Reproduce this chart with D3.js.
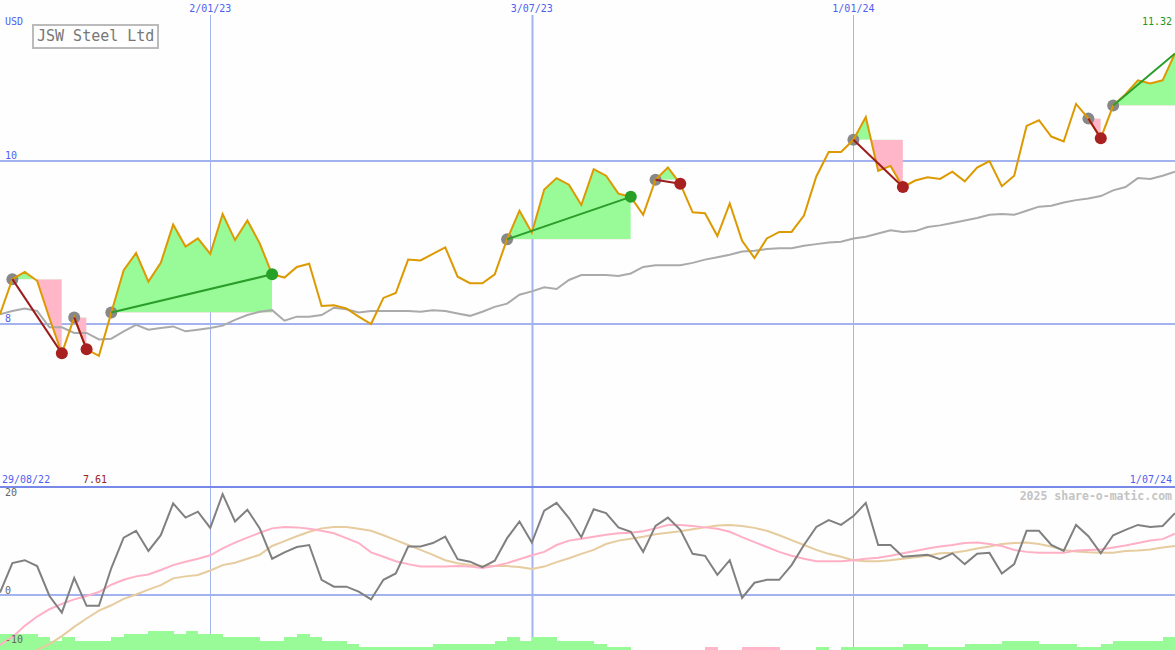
<!DOCTYPE html>
<html><head><meta charset="utf-8">
<script src="https://cdn.jsdelivr.net/npm/d3@7"></script>
<style>body{margin:0;background:#fdfefd;} svg{display:block;}</style>
</head><body><svg id="c" width="1175" height="650"></svg>
<script>
// ---- data (weekly points, index 0..95) ----
const price = [8.12,8.55,8.64,8.53,8.07,7.64,8.08,7.69,7.61,8.14,
  8.66,8.87,8.52,8.75,9.22,8.95,9.05,8.86,9.35,9.03,
  9.27,8.99,8.61,8.57,8.70,8.74,8.22,8.23,8.19,8.09,
  8.00,8.32,8.38,8.79,8.78,8.86,8.94,8.58,8.50,8.50,
  8.61,9.04,9.39,9.12,9.65,9.79,9.71,9.46,9.90,9.82,
  9.60,9.56,9.34,9.77,9.92,9.72,9.37,9.36,9.08,9.48,
  9.02,8.81,9.05,9.13,9.13,9.33,9.81,10.11,10.11,10.26,
  10.54,9.88,9.94,9.68,9.76,9.80,9.78,9.87,9.75,9.92,
  10.00,9.69,9.82,10.43,10.50,10.30,10.24,10.70,10.52,10.28,
  10.68,10.82,10.99,10.95,10.99,11.32];
const movingAvg = [8.12,8.16,8.19,8.16,7.96,7.96,7.89,7.89,7.81,7.82,
  7.91,7.99,7.93,7.95,7.97,7.91,7.93,7.95,7.98,8.05,
  8.11,8.15,8.17,8.04,8.09,8.09,8.11,8.20,8.18,8.14,
  8.16,8.16,8.16,8.16,8.15,8.17,8.16,8.13,8.10,8.15,
  8.21,8.25,8.36,8.40,8.45,8.43,8.54,8.60,8.60,8.60,
  8.59,8.62,8.70,8.72,8.72,8.72,8.75,8.79,8.82,8.85,
  8.89,8.90,8.92,8.93,8.93,8.96,8.98,9.00,9.01,9.05,
  9.07,9.11,9.15,9.13,9.14,9.19,9.21,9.24,9.27,9.30,
  9.34,9.35,9.34,9.39,9.44,9.45,9.49,9.52,9.54,9.57,
  9.64,9.68,9.79,9.78,9.82,9.87];
const oscGray = [0.5,6.5,7.1,5.9,-0.2,-3.6,3.5,-2.2,-2.2,5.5,
  11.7,13.1,9.0,12.2,18.7,15.8,17.0,13.7,20.6,15.0,
  17.4,13.6,7.4,8.7,9.8,10.2,3.1,1.7,1.7,0.7,
  -0.9,3.1,4.4,9.9,9.9,10.6,11.9,7.3,6.8,5.7,
  7.0,11.6,15.0,10.7,17.2,18.8,15.7,11.8,17.5,16.7,
  13.8,12.9,8.8,14.1,15.8,13.3,8.4,8.0,4.1,7.1,
  -0.6,2.5,3.1,3.1,6.1,10.2,13.9,15.3,14.3,16.1,
  18.8,10.2,10.2,7.8,8.0,8.2,7.3,8.5,6.3,8.4,
  8.6,4.4,6.3,13.1,13.1,10.2,9.0,14.3,12.0,8.5,
  12.2,13.3,14.3,13.9,14.1,16.7];
const oscPink = [-10.2,-8.6,-6.3,-4.4,-2.9,-1.8,-0.9,-0.2,0.6,2.1,
  3.1,3.8,4.2,5.1,6.1,6.8,7.4,8.1,9.5,10.7,
  11.7,12.7,13.6,13.9,13.8,13.5,13.1,12.6,11.6,10.6,
  8.7,7.8,6.9,6.3,5.8,5.8,5.8,5.9,5.8,5.5,
  5.9,6.5,7.3,8.1,8.8,10.2,11.1,11.5,11.9,12.3,
  12.6,12.7,13.0,13.6,14.3,14.3,14.1,13.8,13.5,12.9,
  11.8,10.8,9.8,8.8,8.0,7.4,6.9,6.9,6.9,7.1,
  7.4,7.6,8.0,8.5,9.0,9.5,9.9,10.2,10.6,10.7,
  10.4,10.0,9.2,8.8,8.6,8.6,8.6,9.1,9.2,9.3,
  9.7,10.1,10.6,11.1,11.4,12.5];
const oscTan = [-17.3,-15.3,-13.3,-11.2,-10.0,-8.4,-6.5,-4.8,-3.2,-2.1,
  -0.8,0.1,1.1,2.0,3.4,3.8,4.1,5.0,6.1,6.6,
  7.4,8.2,10.0,11.0,12.0,12.9,13.6,13.9,13.9,13.5,
  13.1,12.2,11.2,10.2,9.2,8.2,7.1,6.5,6.1,5.9,
  5.9,5.9,5.7,5.3,5.8,6.7,7.5,8.4,9.2,10.4,
  11.1,11.5,11.9,12.4,12.7,13.0,13.4,13.8,14.2,14.3,
  14.1,13.7,13.1,12.2,11.2,10.2,9.2,8.4,7.8,7.1,
  6.9,6.9,7.1,7.4,7.7,8.0,8.5,8.6,9.0,9.5,
  9.9,10.4,10.6,10.7,10.4,9.9,9.2,8.9,8.7,8.6,
  8.6,9.0,9.1,9.3,9.7,10.0];
const histo = [5,5,5,4,3,4,3,3,3,4,
  5,5,6,6,5,6,5,5,4,4,
  4,3,3,4,5,4,3,3,2,1,
  1,1,1,1,1,2,2,2,2,2,
  3,4,3,4,4,3,3,3,2,1,
  1,0,0,0,0,0,0,-1,0,0,
  -1,-1,-1,0,0,0,1,0,1,1,
  1,1,1,2,2,1,1,1,2,2,
  2,3,3,3,2,2,2,1,1,2,
  3,3,3,3,4];
const tradeEntry = [1,6,9,41,53,69,88,90];
const tradeExit  = [5,7,22,51,55,73,89,95];
const tradeOpen  = [false,false,false,false,false,false,false,true];
const dateTickIdx = [17,43,69];
const dateTickLabels = ["2/01/23","3/07/23","1/01/24"];
const priceTicks = [10,8];
const oscTicks = [20,0,-10];
const startLabel = "29/08/22", endLabel = "1/07/24";
const lowLabel = "7.61", lastLabel = "11.32";
const title = "JSW Steel Ltd", currency = "USD", credit = "2025 share-o-matic.com";

// ---- drawing ----
const W = 1175, H = 650, splitY = 487;
const svg = d3.select("#c");
const mono = "'DejaVu Sans Mono', monospace";
const blue = "#4f5ff0", grid = "#a3b3f0";
svg.append("rect").attr("width",W).attr("height",H).attr("fill","#fdfefd");

const x = d3.scaleLinear().domain([0, price.length-1]).range([0, W]);
const yP = d3.scaleLinear().domain([8,10]).range([324,161]);
const yO = d3.scaleLinear().domain([0,20]).range([595,497]);
const yH = d3.scaleLinear().domain([0,6]).range([650,631]);

// vertical date grid
dateTickIdx.forEach((d,k)=>{
  svg.append("line").attr("x1",Math.round(x(d))+0.5).attr("x2",Math.round(x(d))+0.5)
    .attr("y1",15).attr("y2",H).attr("stroke",grid).attr("stroke-width",k===1?2:1);
  svg.append("text").attr("x",x(d)).attr("y",12).attr("text-anchor","middle")
    .attr("font-family",mono).attr("font-size",10).attr("fill",blue).text(dateTickLabels[k]);
});
// price gridlines
priceTicks.forEach(v=>{
  svg.append("line").attr("x1",0).attr("x2",W).attr("y1",yP(v)).attr("y2",yP(v))
    .attr("stroke",grid).attr("stroke-width",2);
  svg.append("text").attr("x",5).attr("y",yP(v)-2).attr("font-family",mono).attr("font-size",10)
    .attr("fill",blue).text(v);
});
// oscillator zero line
svg.append("line").attr("x1",0).attr("x2",W).attr("y1",yO(0)).attr("y2",yO(0))
  .attr("stroke",grid).attr("stroke-width",2);
// separator
svg.append("line").attr("x1",0).attr("x2",W).attr("y1",splitY).attr("y2",splitY)
  .attr("stroke","#7888e8").attr("stroke-width",2);

// trade fills
const defs = svg.append("defs");
tradeEntry.forEach((e,t)=>{
  const ex = tradeExit[t];
  const idx = d3.range(e, ex+1);
  const lvl = yP(price[e]);
  const x0 = x(e), x1 = x(ex);
  defs.append("clipPath").attr("id","ca"+t).append("rect")
    .attr("x",x0).attr("y",0).attr("width",x1-x0).attr("height",lvl);
  defs.append("clipPath").attr("id","cb"+t).append("rect")
    .attr("x",x0).attr("y",lvl).attr("width",x1-x0).attr("height",splitY-lvl);
  const area = d3.area().x(i=>x(i)).y0(lvl).y1(i=>yP(price[i]));
  svg.append("path").attr("d",area(idx)).attr("fill","#98fb98").attr("clip-path","url(#ca"+t+")");
  svg.append("path").attr("d",area(idx)).attr("fill","#ffb6c8").attr("clip-path","url(#cb"+t+")");
});

// moving average
const idxAll = d3.range(price.length);
svg.append("path").attr("d", d3.line().x(i=>x(i)).y(i=>yP(movingAvg[i]))(idxAll))
  .attr("fill","none").attr("stroke","#aaaaaa").attr("stroke-width",2);

// entry dots (under line)
tradeEntry.forEach(e=>{
  svg.append("circle").attr("cx",x(e)).attr("cy",yP(price[e])).attr("r",6).attr("fill","#888888");
});

// price line
svg.append("path").attr("d", d3.line().x(i=>x(i)).y(i=>yP(price[i]))(idxAll))
  .attr("fill","none").attr("stroke","#dd9900").attr("stroke-width",2).attr("stroke-linejoin","miter");

// trade connectors & exit dots
tradeEntry.forEach((e,t)=>{
  const ex = tradeExit[t];
  const win = price[ex] > price[e];
  const col = win ? "#2a9d2a" : "#9b1c1c";
  svg.append("line").attr("x1",x(e)).attr("y1",yP(price[e])).attr("x2",x(ex)).attr("y2",yP(price[ex]))
    .attr("stroke",col).attr("stroke-width",2);
  if(!tradeOpen[t]){
    svg.append("circle").attr("cx",x(ex)).attr("cy",yP(price[ex])).attr("r",6)
      .attr("fill", win ? "#27a027" : "#a82020");
  }
});

// histogram
const bw = x(1)-x(0);
histo.forEach((v,k)=>{
  if(v===0) return;
  svg.append("rect").attr("x",x(k)).attr("width",bw+0.5)
    .attr("y",yH(Math.abs(v))).attr("height",yH(0)-yH(Math.abs(v)))
    .attr("fill", v>0 ? "#98fb98" : "#ffb6c8").attr("shape-rendering","crispEdges");
});

// oscillator lines
const lineO = arr => d3.line().x(i=>x(i)).y(i=>yO(arr[i]))(idxAll);
svg.append("path").attr("d",lineO(oscTan)).attr("fill","none").attr("stroke","#e6cc9e").attr("stroke-width",2);
svg.append("path").attr("d",lineO(oscPink)).attr("fill","none").attr("stroke","#ffb0c6").attr("stroke-width",2);
svg.append("path").attr("d",lineO(oscGray)).attr("fill","none").attr("stroke","#808080").attr("stroke-width",2);

// oscillator tick labels
oscTicks.forEach(v=>{
  svg.append("text").attr("x",5).attr("y",yO(v)-1).attr("font-family",mono).attr("font-size",10)
    .attr("fill","#666666").text(v);
});

// texts
svg.append("text").attr("x",5).attr("y",25).attr("font-family",mono).attr("font-size",10).attr("fill",blue).text(currency);
svg.append("rect").attr("x",33).attr("y",25).attr("width",125).attr("height",23)
  .attr("fill","none").attr("stroke","#bbbbbb").attr("stroke-width",2);
svg.append("text").attr("x",37).attr("y",41).attr("font-family",mono).attr("font-size",15).attr("fill","#777777").text(title);
svg.append("text").attr("x",1172).attr("y",25).attr("text-anchor","end").attr("font-family",mono).attr("font-size",10)
  .attr("fill","#229922").text(lastLabel);
svg.append("text").attr("x",2).attr("y",483).attr("font-family",mono).attr("font-size",10).attr("fill",blue).text(startLabel);
svg.append("text").attr("x",83).attr("y",483).attr("font-family",mono).attr("font-size",10).attr("fill","#992222").text(lowLabel);
svg.append("text").attr("x",1172).attr("y",483).attr("text-anchor","end").attr("font-family",mono).attr("font-size",10).attr("fill",blue).text(endLabel);
svg.append("text").attr("x",1172).attr("y",500).attr("text-anchor","end").attr("font-family",mono).attr("font-size",11.5)
  .attr("font-weight","bold").attr("fill","#c4c4c4").text(credit);
</script></body></html>
